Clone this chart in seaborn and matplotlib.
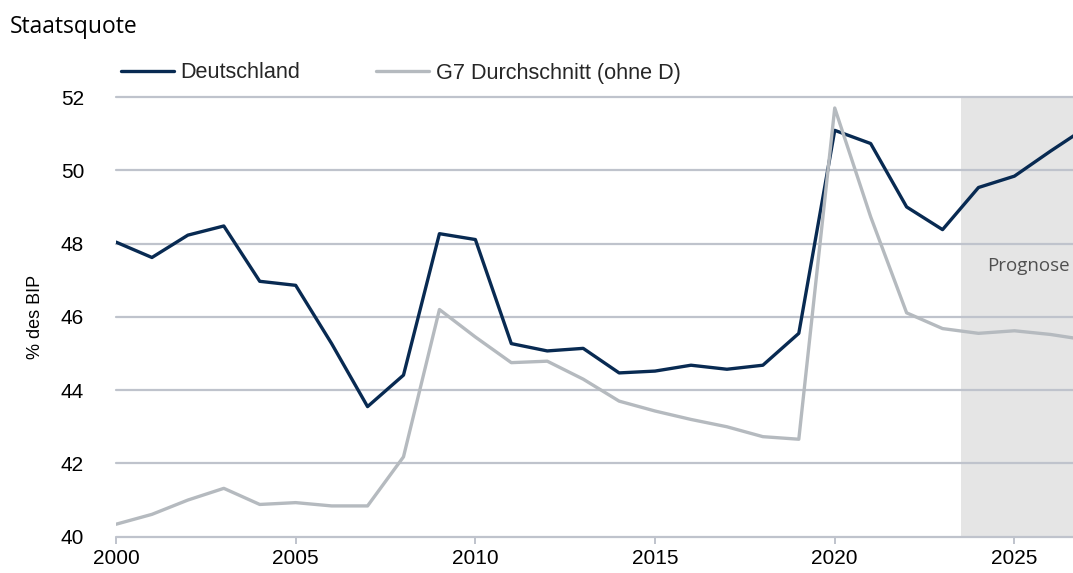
import matplotlib

matplotlib.use("Agg")

import matplotlib.pyplot as plt
import pandas as pd
import seaborn as sns

# Staatsquote in % des BIP
years = list(range(2000, 2028))
deutschland = [48.04, 47.62, 48.23, 48.48, 46.97, 46.86, 45.27, 43.55, 44.41, 48.27,
               48.11, 45.27, 45.07, 45.14, 44.47, 44.52, 44.68, 44.57, 44.68, 45.55,
               51.09, 50.73, 49.00, 48.38, 49.53, 49.84, 50.52, 51.17]
g7_ohne_d = [40.34, 40.61, 41.00, 41.32, 40.88, 40.93, 40.84, 40.84, 42.18, 46.20,
             45.45, 44.75, 44.79, 44.30, 43.70, 43.43, 43.20, 43.00, 42.73, 42.66,
             51.70, 48.73, 46.11, 45.68, 45.55, 45.62, 45.52, 45.37]
series_names = ["Deutschland", "G7 Durchschnitt (ohne D)"]
x_ticks = [2000, 2005, 2010, 2015, 2020, 2025]
y_ticks = [40, 42, 44, 46, 48, 50, 52]
forecast_start = 2023.5

NAVY = "#082a52"
GREY = "#b5babf"
GRID = "#bfc3cc"
SHADE = "#e5e5e5"

sns.set_theme(style="white")
plt.rcParams["font.family"] = ["Liberation Sans", "DejaVu Sans"]

df = pd.DataFrame({"Jahr": years, series_names[0]: deutschland, series_names[1]: g7_ohne_d})
long_df = df.melt(id_vars="Jahr", var_name="Reihe", value_name="Wert")

fig = plt.figure(figsize=(10.73, 5.73), dpi=100)
ax = fig.add_axes([116 / 1073, 1 - 536.7 / 573, 1 - 116 / 1073, (536.7 - 97) / 573])

ax.axvspan(forecast_start, 2030, color=SHADE, zorder=0, linewidth=0)
sns.lineplot(data=long_df, x="Jahr", y="Wert", hue="Reihe", hue_order=series_names,
             palette=[NAVY, GREY], linewidth=2.4, ax=ax, zorder=3)

ax.set_xlim(2000, 2026.63)
ax.set_ylim(40, 52)
ax.set_xticks(x_ticks)
ax.set_yticks(y_ticks)
ax.set_axisbelow(True)
ax.grid(axis="y", color=GRID, linewidth=1.6)
ax.grid(axis="x", visible=False)
for line in ax.get_ygridlines():
    line.set_clip_on(False)
sns.despine(ax=ax, left=True, top=True, right=True, bottom=True)

ax.tick_params(axis="x", bottom=True, length=5, width=1.4, color=GRID, pad=4,
               labelsize=15, labelcolor="black")
ax.tick_params(axis="y", left=False, pad=17, labelsize=15, labelcolor="black")
ax.set_xlabel("")
ax.set_ylabel("% des BIP", fontsize=13, color="black", labelpad=12)

ax.text(2026.55, 47.38, "Prognose", ha="right", va="center", fontsize=13.5,
        color="#505050", family=["Open Sans", "DejaVu Sans"])

fig.text(10 / 1073, 1 - 27 / 573, "Staatsquote", ha="left", va="center", fontsize=16.5,
         color="black", family=["Open Sans", "DejaVu Sans"])

handles, labels = ax.get_legend_handles_labels()
ax.get_legend().remove()
fig.legend(handles, labels, loc="center left", bbox_to_anchor=(121 / 1073, 1 - 73 / 573),
           ncol=2, frameon=False, fontsize=15.6, handlelength=2.45, handletextpad=0.3,
           columnspacing=3.5, borderpad=0, borderaxespad=0)

fig.savefig("out.png", dpi=100)
